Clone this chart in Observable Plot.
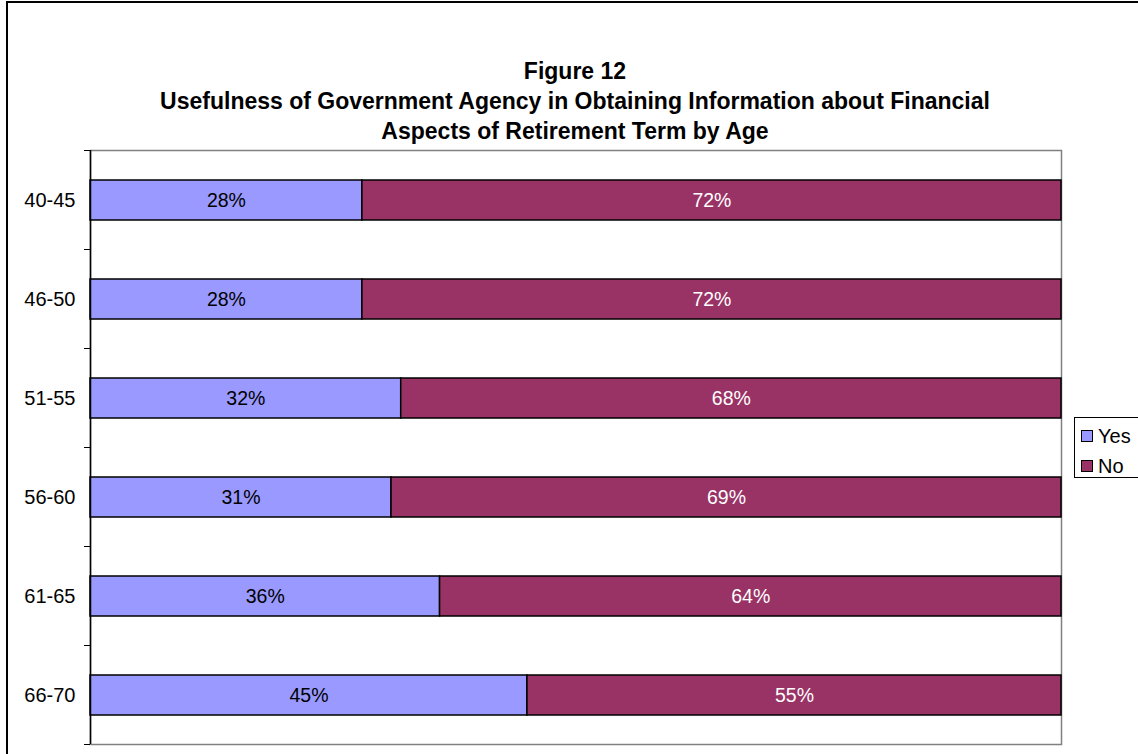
<!DOCTYPE html>
<html>
<head>
<meta charset="utf-8">
<script src="https://cdn.jsdelivr.net/npm/d3@7"></script>
<script src="https://cdn.jsdelivr.net/npm/@observablehq/plot@0.6"></script>
<style>
  html, body { margin: 0; padding: 0; background: #fff; overflow: hidden; }
  #wrap { position: relative; width: 1138px; height: 754px; overflow: hidden; font-family: "Liberation Sans", Arial, sans-serif; }
  #border { position: absolute; left: 6px; top: 1px; width: 1150px; height: 780px; border: 2px solid #000; box-sizing: border-box; }
  #title { position: absolute; left: 0; width: 1150px; top: 56px; text-align: center; font-weight: bold; font-size: 23px; line-height: 30px; color: #000; }
  #chart { position: absolute; left: 0; top: 0; }
  #legend { position: absolute; left: 1074px; top: 417px; width: 70px; height: 61px; border: 1px solid #000; box-sizing: border-box; background: #fff; font-size: 20px; }
  .item { position: absolute; left: 6px; height: 22px; display: flex; align-items: center; }
  .sw { width: 10px; height: 10px; border: 1px solid #000; margin-right: 5px; }
</style>
</head>
<body>
<div id="wrap">
  <div id="border"></div>
  <div id="chart"></div>
  <div id="title">Figure 12<br>Usefulness of Government Agency in Obtaining Information about Financial<br>Aspects of Retirement Term by Age</div>
  <div id="legend"></div>
</div>
<script>
const ages = ["40-45", "46-50", "51-55", "56-60", "61-65", "66-70"];
const yesValues = [28, 28, 32, 31, 36, 45];
const noValues = [72, 72, 68, 69, 64, 55];
const series = ["Yes", "No"];
const colors = ["#9999FF", "#993366"];
const labelColors = ["#000000", "#ffffff"];

const data = [];
ages.forEach((a, i) => {
  data.push({age: a, answer: "Yes", value: yesValues[i]});
  data.push({age: a, answer: "No", value: noValues[i]});
});

const boundaryTicks = (index, scales, values, dimensions) => {
  const y = scales.y;
  const gap = (y.step() - y.bandwidth()) / 2;
  const g = d3.create("svg:g");
  const ys = ages.map(a => y(a) - gap);
  ys.push(y(ages[ages.length - 1]) + y.bandwidth() + gap);
  for (const yy of ys) {
    g.append("line")
      .attr("x1", dimensions.marginLeft - 6).attr("x2", dimensions.marginLeft)
      .attr("y1", yy).attr("y2", yy)
      .attr("stroke", "#000").attr("stroke-width", 1);
  }
  return g.node();
};

const chart = Plot.plot({
  width: 1138,
  height: 754,
  marginLeft: 90,
  marginRight: 77,
  marginTop: 150,
  marginBottom: 10,
  style: {fontFamily: "Liberation Sans, Arial, sans-serif", fontSize: "20px", background: "transparent"},
  x: {domain: [0, 100], axis: null},
  y: {domain: ages, paddingInner: 0.6, paddingOuter: 0.3, label: null},
  color: {domain: series, range: colors},
  marks: [
    Plot.frame({stroke: "#808080", strokeWidth: 1.5}),
    Plot.barX(data, Plot.stackX({x: "value", y: "age", fill: "answer", stroke: "#000", strokeWidth: 1.5, order: series})),
    Plot.text(data, Plot.stackX({x: "value", y: "age", order: series, text: d => d.value + "%", fill: d => labelColors[series.indexOf(d.answer)], fontSize: 19.5})),
    Plot.ruleX([0], {stroke: "#000", strokeWidth: 1.5}),
    Plot.axisY({tickSize: 0, tickPadding: 15, fontSize: 20, fill: "#000", label: null}),
    boundaryTicks
  ]
});
document.getElementById("chart").appendChild(chart);

const legend = document.getElementById("legend");
series.forEach((s, i) => {
  const item = document.createElement("div");
  item.className = "item";
  item.style.top = (7 + i * 30) + "px";
  const sw = document.createElement("div");
  sw.className = "sw";
  sw.style.background = colors[i];
  const t = document.createElement("span");
  t.textContent = s;
  item.appendChild(sw);
  item.appendChild(t);
  legend.appendChild(item);
});
</script>
</body>
</html>
